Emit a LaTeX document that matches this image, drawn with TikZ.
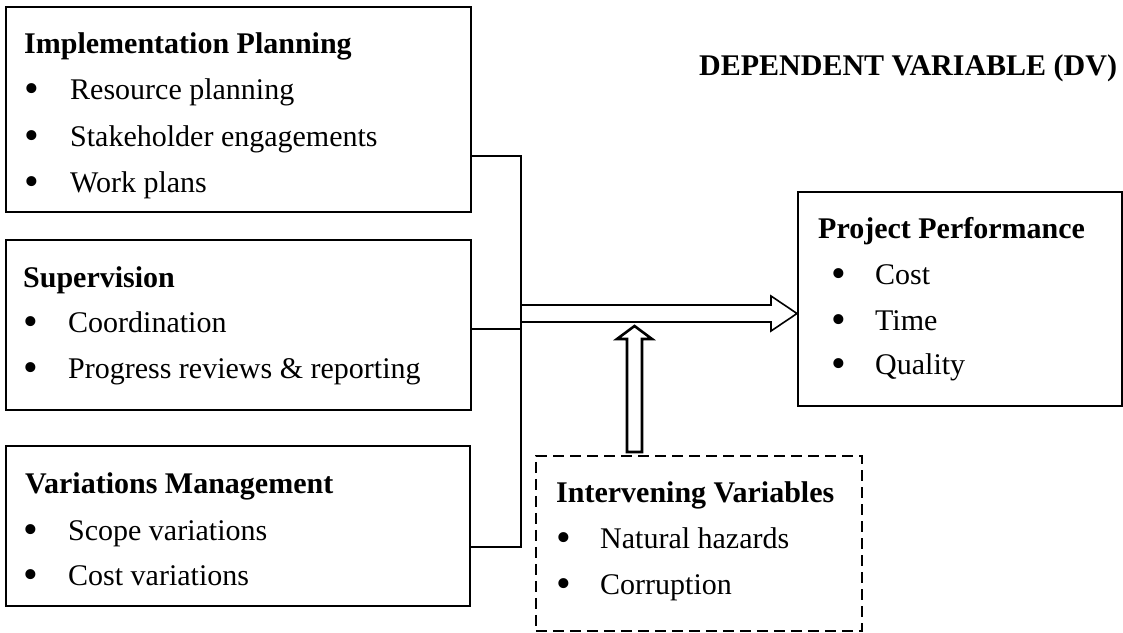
\documentclass[tikz,border=0pt]{standalone}
\usepackage{fontspec}
\usepackage{graphicx}
\setmainfont{Liberation Serif}
\usetikzlibrary{calc}
\tikzset{
  box/.style={draw, line width=2pt, inner sep=0pt, anchor=north west},
  dbox/.style={draw, line width=1.5pt, dash pattern=on 11pt off 6pt, inner sep=0pt, anchor=north west},
  txt/.style={anchor=base west, inner sep=0pt, font=\fontsize{30}{36}\selectfont},
  ttl/.style={anchor=base west, inner sep=0pt, font=\fontsize{30}{36}\selectfont\bfseries},
  conn/.style={line width=2pt},
  hollow/.style={draw, line width=1.6pt, fill=white, line join=miter},
  hollowv/.style={draw, line width=2.6pt, fill=white, line join=miter}
}
\newcommand\bul[1]{\makebox[#1][l]{\raisebox{-3.5pt}{\scalebox{1.4}{\textbullet}}}}
\begin{document}
\begin{tikzpicture}[x=1pt,y=-1pt]
\useasboundingbox (0,0) rectangle (1123,632);
% boxes
\node[box, minimum width=465pt, minimum height=205pt] (ip) at (5,6) {};
\node[box, minimum width=465pt, minimum height=170pt] (sv) at (5,239) {};
\node[box, minimum width=464pt, minimum height=160pt] (vm) at (5,445) {};
\node[box, minimum width=324pt, minimum height=214pt] (pp) at (797,191) {};
\node[dbox, minimum width=326pt, minimum height=175pt] (iv) at (535,455) {};
% texts
\node[ttl] (dv) at (699,75) {DEPENDENT VARIABLE (DV)};
\node[ttl] (ipt) at (24,53) {Implementation Planning};
\node[txt] (ip1) at (24.5,99) {\bul{45.5pt}Resource planning};
\node[txt] (ip2) at (24.5,146) {\bul{45.5pt}Stakeholder engagements};
\node[txt] (ip3) at (24.5,192) {\bul{45.5pt}Work plans};
\node[ttl] (svt) at (23,287) {Supervision};
\node[txt] (sv1) at (23,332) {\bul{45pt}Coordination};
\node[txt] (sv2) at (23,378) {\bul{45pt}Progress reviews \& reporting};
\node[ttl] (vmt) at (25,493) {Variations Management};
\node[txt] (vm1) at (23,540) {\bul{45pt}Scope variations};
\node[txt] (vm2) at (23,585) {\bul{45pt}Cost variations};
\node[ttl] (ppt) at (818,238) {Project Performance};
\node[txt] (pp1) at (831,284) {\bul{44pt}Cost};
\node[txt] (pp2) at (831,330) {\bul{44pt}Time};
\node[txt] (pp3) at (831,374) {\bul{44pt}Quality};
\node[ttl] (ivt) at (556,502) {Intervening Variables};
\node[txt] (iv1) at (556,548) {\bul{44pt}Natural hazards};
\node[txt] (iv2) at (556,594) {\bul{44pt}Corruption};
% connectors
\coordinate (j1) at (521,156);
\coordinate (j2) at (521,329);
\coordinate (j3) at (521,547);
\draw[conn] (ip.east |- j1) -- (j1) -- (j3) -- (vm.east |- j3);
\draw[conn] (sv.east |- j2) -- (j2);
% horizontal hollow arrow
\coordinate (a0) at (521,313.5);
\coordinate (ah) at (771,313.5);
\draw[hollow] ($(a0)+(0,-8.5)$) -- ($(ah)+(0,-8.5)$) -- ($(ah)+(0,-17.5)$)
  -- (pp.west |- a0) -- ($(ah)+(0,17.5)$) -- ($(ah)+(0,8.5)$) -- ($(a0)+(0,8.5)$) -- cycle;
% vertical hollow arrow
\coordinate (v0) at (634.5,452);
\coordinate (vh) at (634.5,339);
\coordinate (vt) at (634.5,326);
\draw[hollowv] ($(v0)+(-7.5,0)$) -- ($(vh)+(-7.5,0)$) -- ($(vh)+(-17.5,0)$) -- (vt)
  -- ($(vh)+(17.5,0)$) -- ($(vh)+(7.5,0)$) -- ($(v0)+(7.5,0)$) -- cycle;
\end{tikzpicture}
\end{document}
